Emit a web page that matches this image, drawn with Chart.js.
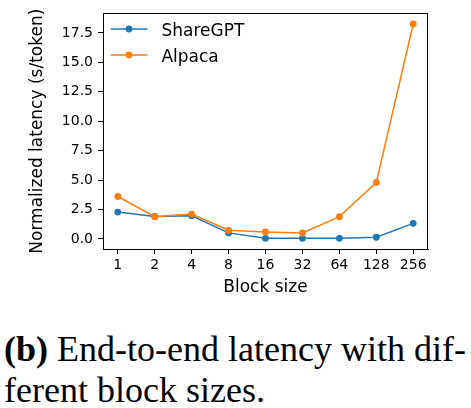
<!DOCTYPE html>
<html>
<head>
<meta charset="utf-8">
<script src="https://cdn.jsdelivr.net/npm/chart.js@4.4.1/dist/chart.umd.min.js"></script>
<style>
  html, body { margin: 0; padding: 0; background: #fff; }
  #wrap { position: relative; width: 471px; height: 408px; overflow: hidden; background: #fff; }
  #chartBox { position: absolute; left: 0; top: 0; width: 471px; height: 300px; }
  #caption {
    position: absolute; left: 4px; top: 329px; width: 467px;
    font-family: "Liberation Serif", serif; font-size: 36px; line-height: 41px;
    color: #000; white-space: nowrap;
  }
</style>
</head>
<body>
<div id="wrap">
  <div id="chartBox"><canvas id="latencyChart"></canvas></div>
  <div id="caption"><b>(b)</b> End-to-end latency with dif-<br>ferent block sizes.</div>
</div>
<script>
// data
const blockSizes = ['1', '2', '4', '8', '16', '32', '64', '128', '256'];
const shareGPT = [2.28, 1.91, 1.97, 0.51, 0.05, 0.05, 0.05, 0.14, 1.32];
const alpaca = [3.60, 1.89, 2.11, 0.73, 0.59, 0.51, 1.89, 4.79, 18.26];
const yTicks = [0, 2.5, 5, 7.5, 10, 12.5, 15, 17.5];

const BLUE = '#1f77b4';
const ORANGE = '#ff7f0e';
const FONT = 'DejaVu Sans';

function toPoints(values) {
  return values.map((v, i) => ({ x: i, y: v }));
}

// matplotlib-like closed frame around the plot area
const framePlugin = {
  id: 'frame',
  afterDraw(chart) {
    const { ctx, chartArea: a } = chart;
    ctx.save();
    ctx.strokeStyle = '#000';
    ctx.lineWidth = 1;
    ctx.strokeRect(Math.round(a.left) + 0.5, Math.round(a.top) + 0.5,
      Math.round(a.right - a.left) - 1, Math.round(a.bottom - a.top));
    ctx.restore();
  }
};

// legend inside the axes, upper left, line + marker like matplotlib
const innerLegend = {
  id: 'innerLegend',
  afterDraw(chart) {
    const { ctx, chartArea: a } = chart;
    ctx.save();
    chart.data.datasets.forEach((ds, i) => {
      const y = a.top + 15.6 + i * 26;
      ctx.strokeStyle = ds.borderColor;
      ctx.lineWidth = 1.5;
      ctx.beginPath();
      ctx.moveTo(a.left + 7.7, y);
      ctx.lineTo(a.left + 44.4, y);
      ctx.stroke();
      ctx.fillStyle = ds.borderColor;
      ctx.beginPath();
      ctx.arc(a.left + 26, y, 3.4, 0, Math.PI * 2);
      ctx.fill();
      ctx.fillStyle = '#000';
      ctx.font = '17px "' + FONT + '"';
      ctx.textBaseline = 'alphabetic';
      ctx.textAlign = 'left';
      ctx.fillText(ds.label, a.left + 58.4, y + 6.5);
    });
    ctx.restore();
  }
};

const ctx = document.getElementById('latencyChart').getContext('2d');
new Chart(ctx, {
  type: 'line',
  data: {
    datasets: [
      {
        label: 'ShareGPT',
        data: toPoints(shareGPT),
        borderColor: BLUE,
        backgroundColor: BLUE,
        borderWidth: 1.5,
        pointRadius: 3.4,
        pointBorderWidth: 0,
        pointBackgroundColor: BLUE,
        tension: 0,
        order: 1
      },
      {
        label: 'Alpaca',
        data: toPoints(alpaca),
        borderColor: ORANGE,
        backgroundColor: ORANGE,
        borderWidth: 1.5,
        pointRadius: 3.4,
        pointBorderWidth: 0,
        pointBackgroundColor: ORANGE,
        tension: 0,
        order: 0
      }
    ]
  },
  options: {
    responsive: true,
    maintainAspectRatio: false,
    animation: false,
    layout: { padding: { top: 13, right: 43, left: 0, bottom: 0 } },
    plugins: {
      legend: { display: false },
      tooltip: { enabled: false }
    },
    scales: {
      x: {
        type: 'linear',
        min: -0.4,
        max: 8.4,
        afterBuildTicks: scale => {
          scale.ticks = blockSizes.map((_, i) => ({ value: i }));
        },
        afterFit: scale => { scale.height = 51; },
        ticks: {
          callback: v => blockSizes[v],
          color: '#000',
          font: { family: FONT, size: 14 },
          padding: 3,
          maxRotation: 0,
          autoSkip: false
        },
        grid: { drawOnChartArea: false, tickLength: 5, tickColor: '#000', tickWidth: 1 },
        border: { color: '#000', width: 1 },
        title: {
          display: true,
          text: 'Block size',
          color: '#000',
          font: { family: FONT, size: 17 },
          padding: { top: 0, bottom: 2.3 }
        }
      },
      y: {
        min: -0.86,
        max: 19.16,
        afterBuildTicks: scale => {
          scale.ticks = yTicks.map(v => ({ value: v }));
        },
        afterFit: scale => { scale.width = 103; },
        ticks: {
          callback: v => v.toFixed(1),
          color: '#000',
          font: { family: FONT, size: 14 },
          padding: 5
        },
        grid: { drawOnChartArea: false, tickLength: 5, tickColor: '#000', tickWidth: 1 },
        border: { color: '#000', width: 1 },
        title: {
          display: true,
          text: 'Normalized latency (s/token)',
          color: '#000',
          font: { family: FONT, size: 17 },
          padding: { top: 27, bottom: 0 }
        }
      }
    }
  },
  plugins: [framePlugin, innerLegend]
});
</script>
</body>
</html>
